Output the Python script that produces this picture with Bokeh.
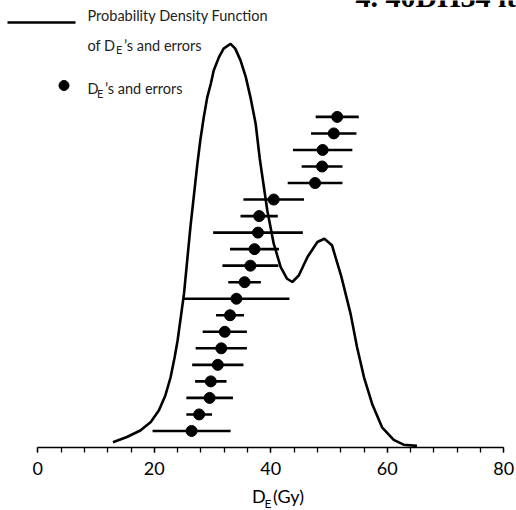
from bokeh.plotting import figure
from bokeh.layouts import column
from bokeh.models import Range1d, SingleIntervalTicker, Label
from bokeh.embed import file_html
from bokeh.resources import INLINE

# --- data ---
de_values = [26.4, 27.7, 29.5, 29.7, 30.9, 31.5, 32.1, 33.0, 34.1, 35.5,
             36.5, 37.2, 37.8, 38.0, 40.5, 47.6, 48.8, 48.9, 50.8, 51.4]
de_errors = [6.7, 2.2, 4.0, 2.7, 4.4, 4.4, 3.8, 2.4, 9.1, 2.8,
             4.8, 4.2, 7.7, 3.2, 5.2, 4.7, 3.5, 5.1, 3.9, 3.7]
ranks = list(range(1, len(de_values) + 1))

pdf_x = [12.9, 15.3, 17.6, 19.4, 20.8, 21.9, 22.8, 23.5, 24.0, 25.1, 26.2,
         27.4, 27.9, 28.5, 29.1, 29.7, 30.2, 31.1, 31.9, 33.1, 33.9, 34.8,
         35.7, 36.5, 37.4, 38.1, 39.4, 40.5, 41.7, 42.8, 43.7, 44.8, 46.3,
         48.0, 49.2, 50.5, 52.1, 53.7, 54.8, 56.0, 57.4, 59.1, 61.1, 62.8, 65.1]
pdf_y = [0.013, 0.026, 0.042, 0.063, 0.092, 0.129, 0.174, 0.224, 0.265, 0.381, 0.546,
         0.703, 0.761, 0.819, 0.868, 0.901, 0.934, 0.967, 0.988, 1.000, 0.988, 0.959,
         0.918, 0.868, 0.802, 0.716, 0.587, 0.505, 0.447, 0.418, 0.410, 0.426, 0.472,
         0.509, 0.517, 0.501, 0.424, 0.331, 0.249, 0.174, 0.108, 0.050, 0.019, 0.007, 0.004]

x_ticks_interval = 20
x_min, x_max = 0, 80

# --- layout helpers (pixel -> data, for annotations only) ---
X_PX0 = 37.3      # pixel of x = 0
X_SCALE = 5.825   # px per Gy
Y_PX0 = 447.0     # pixel of y = 0 (axis line)
Y_SCALE = 16.53   # px per rank
PDF_PEAK_PX = 403.7


def sx(px):
    return (px - X_PX0) / X_SCALE


def sy(py):
    return (Y_PX0 - py) / Y_SCALE


W, H = 516, 510
H_TOP = 484           # main figure (frame + x axis)
H_BOT = H - H_TOP     # strip holding the axis title

x_range = Range1d(sx(0), sx(W))
p = figure(width=W, height=H_TOP, output_backend="svg", toolbar_location=None,
           x_range=x_range, y_range=Range1d(0, sy(0)),
           y_axis_location=None, min_border_left=0, min_border_right=0,
           min_border_top=0, min_border_bottom=int(H_TOP - Y_PX0),
           background_fill_color="white", border_fill_color="white")
p.outline_line_color = None
p.xgrid.visible = False
p.ygrid.visible = False

p.extra_y_ranges = {"pdf": Range1d(0, Y_PX0 / PDF_PEAK_PX)}

ax = p.xaxis[0]
ax.ticker = SingleIntervalTicker(interval=x_ticks_interval, num_minor_ticks=5)
ax.bounds = (x_min, x_max)
ax.axis_line_color = "black"
ax.axis_line_width = 1.3
ax.major_tick_line_color = "black"
ax.minor_tick_line_color = "black"
ax.major_tick_line_width = 1.3
ax.minor_tick_line_width = 1.3
ax.major_tick_in = 0
ax.major_tick_out = 5
ax.minor_tick_in = 0
ax.minor_tick_out = 5
ax.major_label_text_font = "Lato"
ax.major_label_text_font_size = "18px"
ax.major_label_text_color = "black"
ax.major_label_standoff = 9

# PDF curve
p.line(pdf_x, pdf_y, y_range_name="pdf", line_color="black", line_width=2.6)

# error bars + points
lo = [v - e for v, e in zip(de_values, de_errors)]
hi = [v + e for v, e in zip(de_values, de_errors)]
p.segment(x0=lo, x1=hi, y0=ranks, y1=ranks, line_color="black", line_width=2.6)
p.scatter(de_values, ranks, size=11, fill_color="black", line_color="black")

# legend (custom)
p.segment(x0=[sx(7)], x1=[sx(75)], y0=[sy(22)], y1=[sy(22)], line_color="black", line_width=2.6)
p.scatter([sx(63.5)], [sy(85)], size=10, fill_color="black", line_color="black")

FONT = "Lato"
TXT = "#222222"


def lab(fig, text, x, y, size, font=FONT, style="normal", color=TXT):
    fig.add_layout(Label(x=x, y=y, text=text, text_font=font,
                         text_font_size=size, text_font_style=style,
                         text_color=color, text_baseline="middle", text_align="left"))


lab(p, "Probability Density Function", sx(87), sy(15.2), "14.5px")
lab(p, "of D", sx(87), sy(44.5), "14.5px")
lab(p, "E", sx(115.5), sy(49.3), "11px")
lab(p, "\u2019s and errors", sx(123.5), sy(44.5), "14.5px")
lab(p, "D", sx(87), sy(87.8), "14.5px")
lab(p, "E", sx(96.5), sy(92.6), "11px")
lab(p, "\u2019s and errors", sx(104.5), sy(87.8), "14.5px")

# clipped heading fragment at the top right
lab(p, "4.   40DH34 it", sx(355), sy(-4.5), "30px", font="Liberation Serif",
    style="bold", color="black")

# bottom strip with the axis title D_E(Gy) (y in pixels from the strip top)
q = figure(width=W, height=H_BOT, output_backend="svg", toolbar_location=None,
           x_range=x_range, y_range=Range1d(H_BOT, 0),
           x_axis_location=None, y_axis_location=None,
           min_border_left=0, min_border_right=0, min_border_top=0, min_border_bottom=0,
           background_fill_color="white", border_fill_color="white")
q.outline_line_color = None
q.xgrid.visible = False
q.ygrid.visible = False

lab(q, "D", sx(251.5), 495 - H_TOP, "18px", color="black")
lab(q, "E", sx(264), 502.5 - H_TOP, "12px", color="black")
lab(q, "(Gy)", sx(272.5), 495 - H_TOP, "18px", color="black")

layout = column(p, q, spacing=0)
open("out.html", "w").write(file_html(layout, INLINE))
